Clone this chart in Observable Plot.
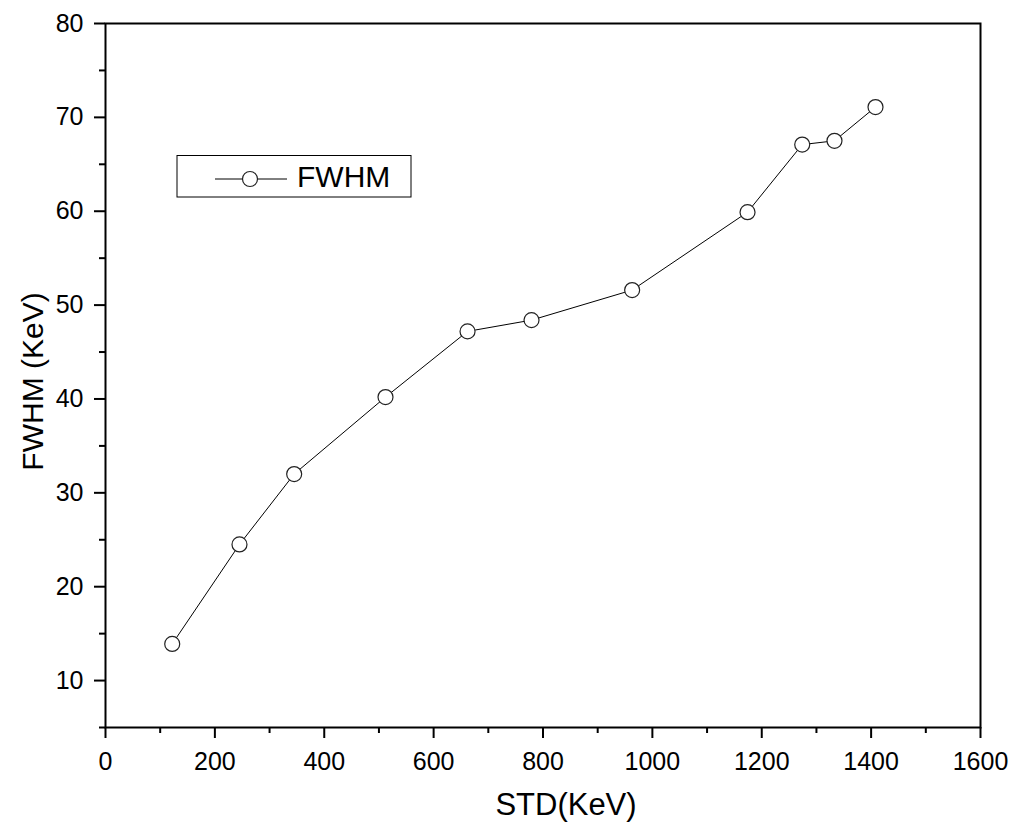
<!DOCTYPE html>
<html>
<head>
<meta charset="utf-8">
<script src="https://cdn.jsdelivr.net/npm/d3@7"></script>
<script src="https://cdn.jsdelivr.net/npm/@observablehq/plot@0.6"></script>
<style>
  html, body { margin: 0; padding: 0; background: #fff; }
  #chart { position: relative; width: 1013px; height: 823px; }
</style>
</head>
<body>
<div id="chart"></div>
<script>
// Data
const std  = [122, 245, 345, 512, 662, 779, 963, 1174, 1274, 1333, 1408];
const fwhm = [13.9, 24.5, 32.0, 40.2, 47.2, 48.4, 51.6, 59.9, 67.1, 67.5, 71.1];

const xMajor = [0, 200, 400, 600, 800, 1000, 1200, 1400, 1600];
const xMinor = [100, 300, 500, 700, 900, 1100, 1300, 1500];
const yMajor = [10, 20, 30, 40, 50, 60, 70, 80];
const yMinor = [5, 15, 25, 35, 45, 55, 65, 75];

const xTitle = "STD(KeV)";
const yTitle = "FWHM (KeV)";
const seriesName = "FWHM";

const data = std.map((x, i) => ({x, y: fwhm[i]}));
const font = "Arial, 'Liberation Sans', sans-serif";

const chart = Plot.plot({
  width: 1013,
  height: 823,
  marginLeft: 105,
  marginRight: 33,
  marginTop: 23,
  marginBottom: 96,
  style: {fontFamily: font, background: "#fff", color: "#000"},
  x: {domain: [0, 1600]},
  y: {domain: [5, 80]},
  marks: [
    Plot.axisX(xMajor, {tickSize: 11, tickPadding: 14, fontSize: 25, strokeWidth: 2, label: null, tickFormat: d => String(d)}),
    Plot.axisX(xMinor, {tickSize: 6, strokeWidth: 2, label: null, tickFormat: () => ""}),
    Plot.axisY(yMajor, {tickSize: 11, tickPadding: 11, fontSize: 25, strokeWidth: 2, label: null, tickFormat: d => String(d)}),
    Plot.axisY(yMinor, {tickSize: 6, strokeWidth: 2, label: null, tickFormat: () => ""}),
    Plot.frame({stroke: "#000", strokeWidth: 2}),
    Plot.line(data, {x: "x", y: "y", stroke: "#000", strokeWidth: 1}),
    Plot.dot(data, {x: "x", y: "y", r: 7.5, fill: "#fff", stroke: "#222", strokeWidth: 1.2}),
    Plot.text([xTitle], {text: d => d, frameAnchor: "bottom", textAnchor: "middle", lineAnchor: "middle", dx: 23, dy: 78, fontSize: 31, fill: "#000"}),
    Plot.text([yTitle], {text: d => d, frameAnchor: "left", textAnchor: "middle", lineAnchor: "middle", rotate: -90, dx: -72.5, dy: 6, fontSize: 30, fill: "#000"})
  ]
});

document.getElementById("chart").appendChild(chart);

// Legend box inside the plot area
const svg = d3.select(chart);
const lg = svg.append("g").attr("class", "legend");
lg.append("rect").attr("x", 177).attr("y", 155.5).attr("width", 234).attr("height", 41.5)
  .attr("fill", "#fff").attr("stroke", "#000").attr("stroke-width", 1);
lg.append("line").attr("x1", 215).attr("x2", 287).attr("y1", 179).attr("y2", 179)
  .attr("stroke", "#000").attr("stroke-width", 1);
lg.append("circle").attr("cx", 250).attr("cy", 179).attr("r", 7.5)
  .attr("fill", "#fff").attr("stroke", "#222").attr("stroke-width", 1.2);
lg.append("text").attr("x", 297).attr("y", 187).attr("font-size", 30)
  .attr("text-anchor", "start")
  .attr("font-family", font).attr("fill", "#000").text(seriesName);
</script>
</body>
</html>
